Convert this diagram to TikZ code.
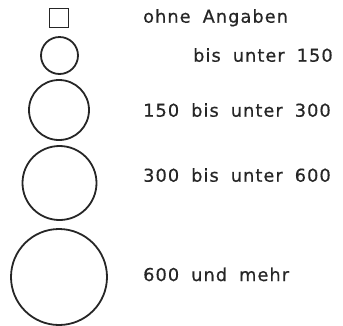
\documentclass[tikz,border=0pt]{standalone}
\usepackage{fontspec}
\newfontfamily\legfont[LetterSpace=6,WordSpace=1.8,FakeBold=0.6]{DejaVu Sans}
\begin{document}
\begin{tikzpicture}[x=1bp,y=-1bp,
  sym/.style={draw=black!85,line width=1.8bp,inner sep=0pt},
  lab/.style={anchor=base west,inner sep=0pt,font=\legfont\fontsize{17.8}{20}\selectfont,text=black!85}]
\useasboundingbox (0,0) rectangle (343,326);
\node[sym,rectangle,minimum size=19bp] (s0) at (59,18) {};
\node[sym,circle,minimum size=37bp] (c1) at (59.5,55.5) {};
\node[sym,circle,minimum size=60bp] (c2) at (59,110) {};
\node[sym,circle,minimum size=74bp] (c3) at (59.5,183) {};
\node[sym,circle,minimum size=96bp] (c4) at (59,277) {};
\node[lab] (t0) at (143,22.7) {ohne Angaben};
\node[lab] (t1) at (193,61.7) {bis unter 150};
\node[lab] (t2) at (143,116.7) {150 bis unter 300};
\node[lab] (t3) at (143,181.7) {300 bis unter 600};
\node[lab] (t4) at (143,281) {600 und mehr};
\end{tikzpicture}
\end{document}
